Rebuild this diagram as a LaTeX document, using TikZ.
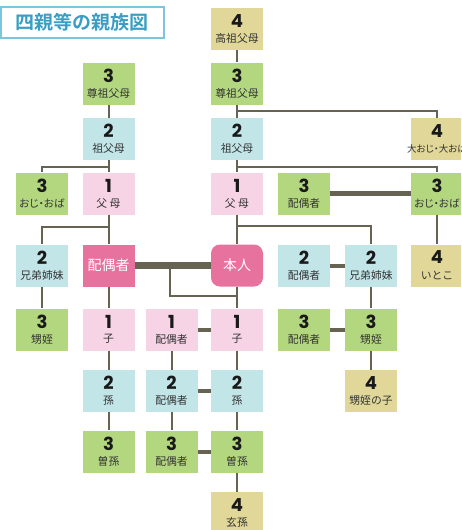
\documentclass[tikz,border=0pt]{standalone}
\usepackage{fontspec}
\setmainfont{Noto Sans CJK JP}[BoldFont={Noto Sans CJK JP Bold}]
\newfontfamily\numf{Poppins}
\newfontfamily\propjp{Noto Sans CJK JP}[RawFeature=+palt]
\usetikzlibrary{calc}
\definecolor{cgreen}{HTML}{B3D77F}
\definecolor{ctan}{HTML}{E0D799}
\definecolor{cblue}{HTML}{C2E5E8}
\definecolor{cpink}{HTML}{F6D4E5}
\definecolor{cdpink}{HTML}{E8729E}
\definecolor{cline}{HTML}{666352}
\definecolor{ttext}{HTML}{3A9EC4}
\definecolor{tborder}{HTML}{7CC5DC}
\definecolor{labcol}{HTML}{333333}
\tikzset{
  box/.style={rectangle, minimum width=52pt, minimum height=42pt, inner sep=0pt, draw=none},
  gr/.style={box, fill=cgreen},
  tn/.style={box, fill=ctan},
  bl/.style={box, fill=cblue},
  pk/.style={box, fill=cpink},
  dpk/.style={box, fill=cdpink, text=white, font=\fontsize{14}{14}\selectfont},
  numtxt/.style={inner sep=0pt, font=\numf\bfseries\fontsize{18}{18}\selectfont, text=black!90},
  labtxt/.style={inner sep=0pt, font=\fontsize{10.8}{10.8}\selectfont, text=labcol},
  ln/.style={draw=cline, line width=2pt},
  medln/.style={draw=cline, line width=4pt},
  thkln/.style={draw=cline, line width=5pt},
  thkkln/.style={draw=cline, line width=7pt},
  titlebox/.style={rectangle, draw=tborder, line width=2pt, minimum width=163pt, minimum height=31pt, inner sep=0pt, text=ttext, font=\bfseries\fontsize{19}{19}\selectfont}
}
\newcommand\kinbox[6]{%
  \node[#4] (#1) at (#2,#3) {};
  \node[numtxt] (#1n) at ($(#1.center)+(0,-8)$) {#5};
  \node[labtxt] (#1l) at ($(#1.center)+(0,9.5)$) {#6};
}
\newcommand\proplab[2]{{\propjp\fontsize{#1}{#1}\selectfont #2}}
\begin{document}
\begin{tikzpicture}[x=1pt,y=-1pt]
\useasboundingbox (0,0) rectangle (461,530);
\clip (0,0) rectangle (461,530);

\node[titlebox] (title) at (82.5,22.5) {四親等の親族図};

% row 0
\kinbox{D0}{237}{29}{tn}{4}{高祖父母}
% row 1
\kinbox{B1}{108.5}{83.5}{gr}{3}{尊祖父母}
\kinbox{D1}{237}{83.5}{gr}{3}{尊祖父母}
% row 2
\kinbox{B2}{108.5}{139}{bl}{2}{祖父母}
\kinbox{D2}{237}{139}{bl}{2}{祖父母}
\kinbox{G2}{437}{139}{tn}{4}{\proplab{9.5}{大おじ・大おば}}
% row 3
\kinbox{A3}{42}{193.5}{gr}{3}{\proplab{10.5}{おじ・おば}}
\kinbox{B3}{108.5}{193.5}{pk}{1}{父 母}
\kinbox{D3}{237}{193.5}{pk}{1}{父 母}
\kinbox{E3}{304}{193.5}{gr}{3}{配偶者}
\kinbox{G3}{437}{193.5}{gr}{3}{\proplab{10.5}{おじ・おば}}
% row 4
\kinbox{A4}{42}{265.5}{bl}{2}{兄弟姉妹}
\node[dpk] (B4) at (108.5,265.5) {配偶者};
\node[dpk, rounded corners=9pt] (D4) at (237,265.5) {本人};
\kinbox{E4}{304}{265.5}{bl}{2}{配偶者}
\kinbox{F4}{371}{265.5}{bl}{2}{兄弟姉妹}
\kinbox{G4}{437}{265.5}{tn}{4}{いとこ}
% row 5
\kinbox{A5}{42}{329.5}{gr}{3}{甥姪}
\kinbox{B5}{108.5}{329.5}{pk}{1}{子}
\kinbox{C5}{171.5}{329.5}{pk}{1}{配偶者}
\kinbox{D5}{237}{329.5}{pk}{1}{子}
\kinbox{E5}{304}{329.5}{gr}{3}{配偶者}
\kinbox{F5}{371}{329.5}{gr}{3}{甥姪}
% row 6
\kinbox{B6}{108.5}{391}{bl}{2}{孫}
\kinbox{C6}{171.5}{391}{bl}{2}{配偶者}
\kinbox{D6}{237}{391}{bl}{2}{孫}
\kinbox{F6}{371}{391}{tn}{4}{甥姪の子}
% row 7
\kinbox{B7}{108.5}{451.5}{gr}{3}{曽孫}
\kinbox{C7}{171.5}{451.5}{gr}{3}{配偶者}
\kinbox{D7}{237}{451.5}{gr}{3}{曽孫}
% row 8
\kinbox{D8}{237}{513}{tn}{4}{玄孫}

% connectors
\draw[ln] (D0) -- (D1);
\draw[ln] (B1) -- (B2);
\draw[ln] (D1) -- (D2);
\coordinate (j1) at (237,111);
\draw[ln] (j1) -| (G2.north);
\draw[ln] (D2) -- (D3);
\coordinate (j2) at (237,166.5);
\draw[ln] (j2) -| (G3.north);
\draw[ln] (B2) -- (B3);
\coordinate (j3) at (108.5,166.5);
\draw[ln] (j3) -| (A3.north);
\draw[ln] (B3) -- (B4);
\coordinate (j4) at (108.5,227);
\draw[ln] (j4) -| (A4.north);
\draw[ln] (D3) -- (D4);
\coordinate (j5) at (237,226);
\draw[ln] (j5) -| (F4.north);
\draw[ln] (A4) -- (A5);
\draw[ln] (G3) -- (G4);
\draw[ln] (F4) -- (F5);
\draw[ln] (F5) -- (F6);
\draw[thkln] (E3) -- (G3);
\draw[thkkln] (B4) -- (D4);
\coordinate (m1) at (170,266);
\coordinate (m2) at (237,296);
\draw[ln] (m1) |- (m2);
\draw[ln] (B4) -- (B5);
\draw[ln] (D4) -- (D5);
\draw[ln] (B5) -- (B6);
\draw[ln] (B6) -- (B7);
\draw[ln] (C5) -- (C6);
\draw[ln] (C6) -- (C7);
\draw[ln] (D5) -- (D6);
\draw[ln] (D6) -- (D7);
\draw[ln] (D7) -- (D8);
\draw[medln] (E4) -- (F4);
\draw[medln] (E5) -- (F5);
\draw[medln] (C5) -- (D5);
\draw[medln] (C6) -- (D6);
\draw[medln] (C7) -- (D7);
\end{tikzpicture}
\end{document}
